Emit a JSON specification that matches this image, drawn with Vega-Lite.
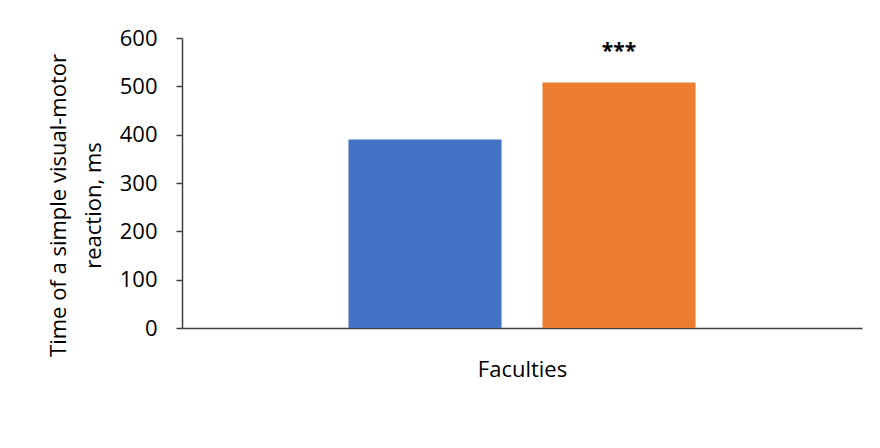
{
  "$schema": "https://vega.github.io/schema/vega-lite/v6.json",
  "description": "Time of a simple visual-motor reaction by faculty",
  "autosize": "none",
  "width": 680,
  "height": 290,
  "padding": {"left": 182, "top": 38, "right": 18, "bottom": 120},
  "background": "white",
  "data": {
    "values": [
      {"faculty": "Faculty 1", "time": 390, "sig": ""},
      {"faculty": "Faculty 2", "time": 508, "sig": "***"}
    ]
  },
  "encoding": {
    "x": {
      "field": "faculty",
      "type": "nominal",
      "sort": null,
      "title": "Faculties",
      "scale": {"paddingInner": 0.211, "paddingOuter": 0.858},
      "axis": {
        "labels": false,
        "ticks": false,
        "domainColor": "#404040",
        "domainWidth": 1.5,
        "titleFont": "Open Sans",
        "titleFontSize": 22,
        "titleFontWeight": "normal",
        "titleColor": "#000000",
        "titlePadding": 31
      }
    },
    "y": {
      "field": "time",
      "type": "quantitative",
      "title": ["Time of a simple visual-motor", "reaction, ms"],
      "scale": {"domain": [0, 600], "nice": false},
      "axis": {
        "values": [0, 100, 200, 300, 400, 500, 600],
        "grid": false,
        "ticks": true,
        "domainColor": "#404040",
        "domainWidth": 1.5,
        "tickColor": "#404040",
        "tickWidth": 1.5,
        "tickSize": 6,
        "labelPadding": 19,
        "labelFont": "Open Sans",
        "labelFontSize": 22,
        "labelColor": "#000000",
        "titleFont": "Open Sans",
        "titleFontSize": 22,
        "titleFontWeight": "normal",
        "titleColor": "#000000",
        "titleLineHeight": 35,
        "titleX": -112,
        "titleY": 167
      }
    }
  },
  "layer": [
    {
      "mark": {"type": "bar"},
      "encoding": {
        "color": {
          "field": "faculty",
          "type": "nominal",
          "legend": null,
          "scale": {"domain": ["Faculty 1", "Faculty 2"], "range": ["#4472C4", "#ED7D31"]}
        }
      }
    },
    {
      "mark": {"type": "text", "dy": -30, "baseline": "middle", "font": "Open Sans", "fontSize": 21, "fontWeight": "bold", "color": "#000000"},
      "encoding": {"text": {"field": "sig"}}
    }
  ],
  "config": {"view": {"stroke": null}}
}
